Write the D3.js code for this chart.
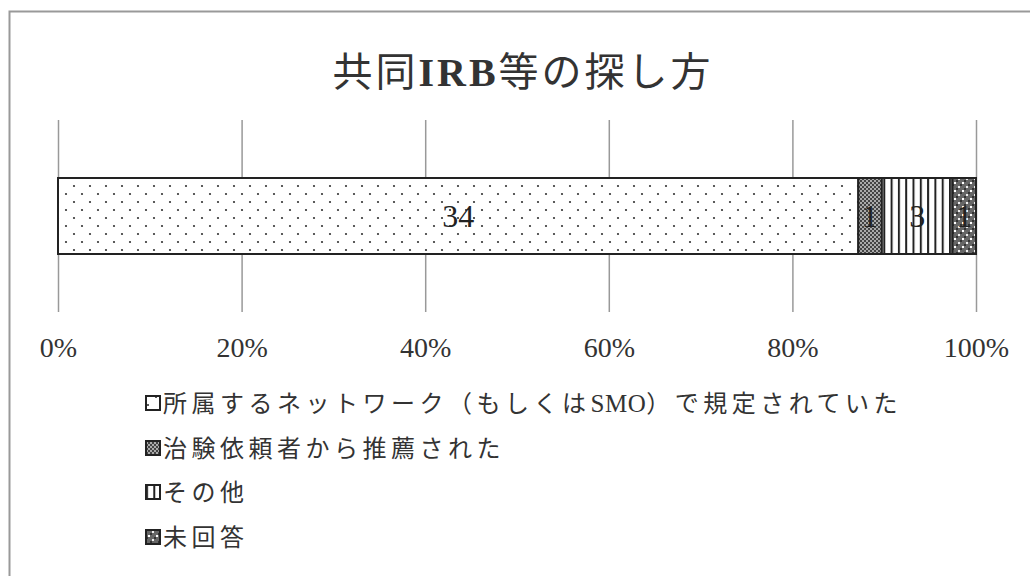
<!DOCTYPE html>
<html><head><meta charset="utf-8">
<script src="https://cdn.jsdelivr.net/npm/d3@7"></script>
<style>
html,body{margin:0;padding:0;background:#fff;}
svg{display:block;}
</style></head>
<body>
<svg id="c" width="1030" height="576"></svg>
<script>
const titleParts = [["共同",false],["IRB",true],["等の探し方",false]];
const categories = ["所属するネットワーク（もしくはSMO）で規定されていた","治験依頼者から推薦された","その他","未回答"];
const values = [34, 1, 3, 1];
const tickValues = [0, 0.2, 0.4, 0.6, 0.8, 1.0];
const tickLabels = ["0%","20%","40%","60%","80%","100%"];
const patternIds = ["pDots","pMesh","pStripe","pDark"];

const FONT = "'Liberation Serif','DejaVu Serif','Noto Sans CJK JP',serif";
const svg = d3.select("#c");
const defs = svg.append("defs");

// patterns
const p1 = defs.append("pattern").attr("id","pDots").attr("patternUnits","userSpaceOnUse").attr("width",16).attr("height",16);
p1.append("rect").attr("width",16).attr("height",16).attr("fill","#fff");
p1.append("circle").attr("cx",2).attr("cy",2).attr("r",1.1).attr("fill","#333");
p1.append("circle").attr("cx",10).attr("cy",10).attr("r",1.1).attr("fill","#333");

const p2 = defs.append("pattern").attr("id","pMesh").attr("patternUnits","userSpaceOnUse").attr("width",4).attr("height",4);
p2.append("rect").attr("width",4).attr("height",4).attr("fill","#aaa");
p2.append("rect").attr("width",2).attr("height",2).attr("fill","#444");
p2.append("rect").attr("x",2).attr("y",2).attr("width",2).attr("height",2).attr("fill","#444");

const p3 = defs.append("pattern").attr("id","pStripe").attr("patternUnits","userSpaceOnUse").attr("width",7.3).attr("height",10);
p3.append("rect").attr("width",7.3).attr("height",10).attr("fill","#fff");
p3.append("rect").attr("x",0).attr("width",2).attr("height",10).attr("fill","#222");

const p4 = defs.append("pattern").attr("id","pDark").attr("patternUnits","userSpaceOnUse").attr("width",8).attr("height",8);
p4.append("rect").attr("width",8).attr("height",8).attr("fill","#666");
p4.append("rect").attr("width",2).attr("height",2).attr("fill","#333");
p4.append("rect").attr("x",4).attr("y",4).attr("width",2).attr("height",2).attr("fill","#333");
p4.append("rect").attr("x",2).attr("y",6).attr("width",2).attr("height",2).attr("fill","#fff");
p4.append("rect").attr("x",6).attr("y",2).attr("width",2).attr("height",2).attr("fill","#eee");

// frame
svg.append("rect").attr("x",9.5).attr("y",11.5).attr("width",1040).attr("height",600)
  .attr("fill","none").attr("stroke","#999").attr("stroke-width",2);

// title
const tt = svg.append("text").attr("x",523).attr("y",86).attr("text-anchor","middle")
  .attr("font-family",FONT).attr("font-size",40).attr("letter-spacing",3).attr("fill","#333");
titleParts.forEach(([t,b])=>tt.append("tspan").attr("font-weight",b?"bold":"normal").text(t));

const total = d3.sum(values);
const x = d3.scaleLinear().domain([0,1]).range([58,976]);

// gridlines
svg.append("g").selectAll("line").data(tickValues).join("line")
  .attr("x1",d=>x(d)+0.5).attr("x2",d=>x(d)+0.5).attr("y1",120).attr("y2",312)
  .attr("stroke","#999").attr("stroke-width",1.5);

// axis labels
const axis = d3.axisBottom(x).tickValues(tickValues).tickFormat((d,i)=>tickLabels[i]).tickSize(0).tickPadding(0);
const ag = svg.append("g").attr("transform","translate(0,332)").call(axis);
ag.select(".domain").remove();
ag.selectAll("text").attr("font-family",FONT).attr("font-size",28).attr("fill","#333").attr("dy","0.88em");

// stacked segments
let cum = 0;
const segs = values.map((v,i)=>{const s={v, i, x0:cum/total, x1:(cum+v)/total}; cum+=v; return s;});
const bh = 76, by = 178;
svg.append("g").selectAll("rect").data(segs).join("rect")
  .attr("x",d=>x(d.x0)).attr("width",d=>x(d.x1)-x(d.x0))
  .attr("y",by).attr("height",bh)
  .attr("fill",d=>`url(#${patternIds[d.i]})`).attr("stroke","#222").attr("stroke-width",2);

svg.append("g").selectAll("text").data(segs).join("text")
  .attr("x",d=>(x(d.x0)+x(d.x1))/2).attr("y",by+bh/2).attr("dy","0.35em")
  .attr("text-anchor","middle").attr("font-family",FONT)
  .attr("font-size",32).attr("fill","#222").text(d=>d.v);

// legend
const lg = svg.append("g");
const ly = [403, 448, 492, 537];
categories.forEach((c,i)=>{
  const g = lg.append("g").attr("transform",`translate(146,${ly[i]})`);
  g.append("rect").attr("x",0).attr("y",-7).attr("width",14).attr("height",14)
    .attr("fill",`url(#${patternIds[i]})`).attr("stroke","#222").attr("stroke-width",2);
  const t = g.append("text").attr("x",17).attr("y",0).attr("dy","0.36em")
    .attr("font-family",FONT).attr("font-size",24).attr("fill","#333");
  c.split(/([A-Za-z0-9]+)/).filter(s=>s.length).forEach(s=>{
    const latin = /^[A-Za-z0-9]+$/.test(s);
    t.append("tspan").attr("letter-spacing",latin?0.5:4.5).attr("font-size",latin?25:24).text(s);
  });
});
</script>
</body></html>
